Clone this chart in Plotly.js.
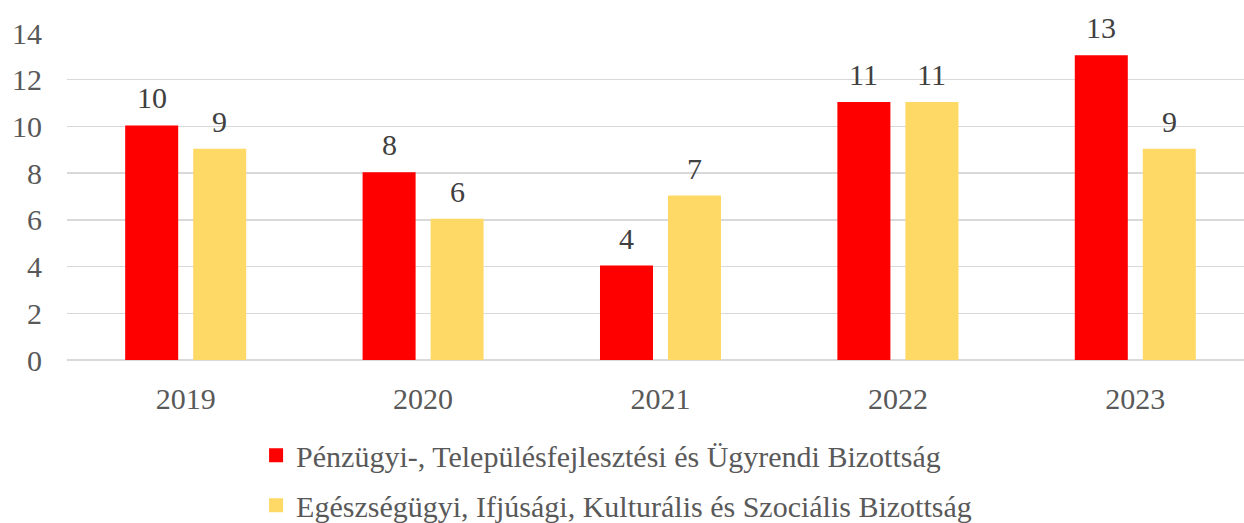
<!DOCTYPE html>
<html>
<head>
<meta charset="utf-8">
<script src="https://cdn.plot.ly/plotly-3.0.1.min.js"></script>
<style>
html,body{margin:0;padding:0;overflow:hidden;background:#fff;}
#chart{width:1254px;height:545px;}
</style>
</head>
<body>
<div id="chart"></div>
<script>
const years = ['2019', '2020', '2021', '2022', '2023'];
const seriesNames = [
  'Pénzügyi-, Településfejlesztési és Ügyrendi Bizottság',
  'Egészségügyi, Ifjúsági, Kulturális és Szociális Bizottság'
];
const penzugyi = [10, 8, 4, 11, 13];
const egeszsegugyi = [9, 6, 7, 11, 9];
const yTicks = [0, 2, 4, 6, 8, 10, 12, 14];

const colors = ['#FF0000', '#FFD966'];
const FONT = 'Liberation Serif, DejaVu Serif, serif';
const allSeries = [penzugyi, egeszsegugyi];

const traces = allSeries.map((vals, i) => ({
  type: 'bar',
  x: years,
  y: vals,
  name: seriesNames[i],
  legendgroup: 'g' + i,
  marker: {color: colors[i], line: {color: colors[i], width: 2}},
  hoverinfo: 'y'
}));

const shifts = [-34, 34];
const annotations = [];
allSeries.forEach((vals, i) => {
  vals.forEach((v, j) => {
    annotations.push({
      x: j, y: v, xref: 'x', yref: 'y',
      text: String(v), showarrow: false,
      xshift: shifts[i], yshift: 10, yanchor: 'bottom',
      font: {family: FONT, size: 30, color: '#404040'}
    });
  });
});

const layout = {
  width: 1254, height: 545,
  margin: {l: 67, r: 0, t: 33, b: 185, autoexpand: false},
  paper_bgcolor: '#ffffff', plot_bgcolor: '#ffffff',
  font: {family: FONT, size: 30, color: '#595959'},
  barmode: 'group',
  bargap: 0.427,
  bargroupgap: 0.25,
  showlegend: true,
  legend: {
    orientation: 'v',
    x: 0.463, xanchor: 'center',
    y: -0.212, yanchor: 'top',
    tracegroupgap: 8,
    font: {family: FONT, size: 30, color: '#595959'},
    bgcolor: 'rgba(0,0,0,0)'
  },
  xaxis: {
    type: 'category',
    range: [-0.5, years.length - 0.5],
    showgrid: false, zeroline: false, showline: false,
    automargin: false, tickangle: 0,
    ticks: '', ticklabelstandoff: 18,
    tickfont: {family: FONT, size: 30, color: '#595959'}
  },
  yaxis: {
    range: [0, 14],
    tickvals: yTicks,
    ticktext: yTicks.map(String),
    automargin: false,
    showgrid: true, gridcolor: '#d9d9d9', gridwidth: 1.5,
    zeroline: true, zerolinecolor: '#d9d9d9', zerolinewidth: 1.5,
    showline: false, ticks: '', ticklabelstandoff: 24,
    tickfont: {family: FONT, size: 30, color: '#595959'}
  },
  annotations: annotations
};

Plotly.newPlot('chart', traces, layout, {displayModeBar: false, staticPlot: true});
</script>
</body>
</html>
